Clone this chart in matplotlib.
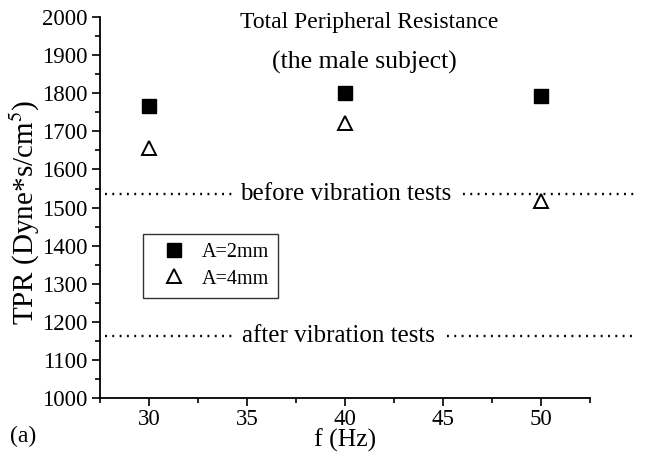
import matplotlib

matplotlib.use('Agg')
import matplotlib.pyplot as plt
from matplotlib.ticker import MultipleLocator

plt.rcParams['font.family'] = ['Liberation Serif', 'DejaVu Serif']
plt.rcParams['mathtext.fontset'] = 'stix'

freq = [30, 40, 50]
tpr_2mm = [1766, 1800, 1793]
tpr_4mm = [1657, 1722, 1518]
before_level = 1535
after_level = 1163

fig = plt.figure(figsize=(6.45, 4.62), dpi=100)
ax = fig.add_axes([0.155, 0.1385, 0.76, 0.8245])

ax.plot(freq, tpr_2mm, 's', color='black', markersize=9.5, label='A=2mm', clip_on=False)
ax.plot(freq, tpr_4mm, '^', markerfacecolor='white', markeredgecolor='black',
        markeredgewidth=1.4, markersize=10, label='A=4mm', clip_on=False)

ax.set_xlim(27.5, 52.5)
ax.set_ylim(1000, 2000)
ax.xaxis.set_major_locator(MultipleLocator(5))
ax.xaxis.set_minor_locator(MultipleLocator(2.5))
ax.yaxis.set_major_locator(MultipleLocator(100))
ax.yaxis.set_minor_locator(MultipleLocator(50))
ax.tick_params(which='major', direction='out', length=6, width=1.2, labelsize=16.5, pad=3)
ax.tick_params(axis='x', which='major', pad=2)
ax.tick_params(which='minor', direction='out', length=3.5, width=1.2)
ax.spines['top'].set_visible(False)
ax.spines['right'].set_visible(False)
ax.spines['left'].set_linewidth(1.3)
ax.spines['bottom'].set_linewidth(1.3)

# reference levels: dotted segments with the label in between
dots = dict(color='black', linewidth=1.7, linestyle=(0, (0.8, 2.3)), clip_on=False)
ax.axhline(before_level, 0.01, 0.27, **dots)
ax.axhline(before_level, 0.741, 1.092, **dots)
ax.text(0.501, before_level, 'before vibration tests', transform=ax.get_yaxis_transform(),
        ha='center', va='center', fontsize=18)
ax.axhline(after_level, 0.01, 0.27, **dots)
ax.axhline(after_level, 0.708, 1.086, **dots)
ax.text(0.487, after_level, 'after vibration tests', transform=ax.get_yaxis_transform(),
        ha='center', va='center', fontsize=18)

ax.text(0.549, 0.987, 'Total Peripheral Resistance', transform=ax.transAxes,
        ha='center', va='center', fontsize=17)
ax.text(0.539, 0.882, '(the male subject)', transform=ax.transAxes,
        ha='center', va='center', fontsize=18.5)

ax.set_xlabel('f (Hz)', fontsize=18.5)
ax.xaxis.set_label_coords(0.5, -0.11)
ax.xaxis.label.set_va('center')
ax.set_ylabel('TPR (Dyne*s/cm$^5$)', fontsize=21)
ax.yaxis.set_label_coords(-0.152, 0.488)
ax.yaxis.label.set_va('center')
fig.text(0.015, 0.055, '(a)', fontsize=17, ha='left', va='center')

leg = ax.legend(loc='upper left', bbox_to_anchor=(0.088, 0.43), borderaxespad=0,
                fontsize=14.5, frameon=True, fancybox=False, edgecolor='black',
                handletextpad=0.25, borderpad=0.45, labelspacing=0.35, handlelength=2.2)
leg.get_frame().set_linewidth(1.0)

fig.savefig('out.png', dpi=100)
